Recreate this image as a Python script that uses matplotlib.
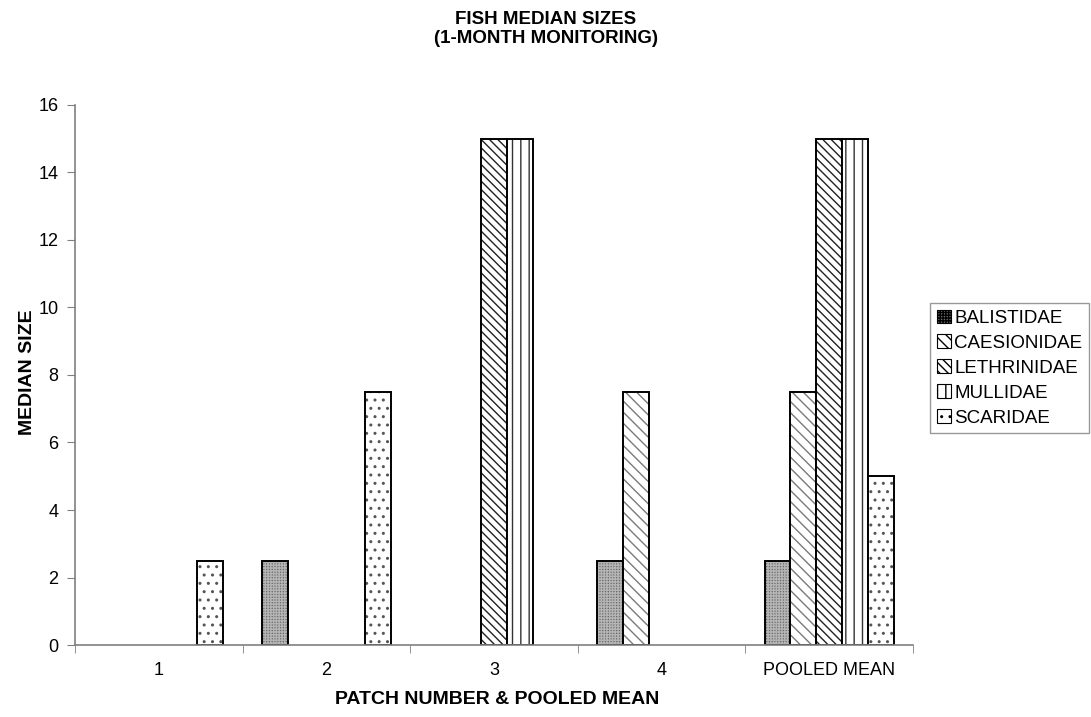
import numpy as np
import matplotlib
matplotlib.use("Agg")
import matplotlib.pyplot as plt
from matplotlib.patches import Patch

categories = ["1", "2", "3", "4", "POOLED MEAN"]
balistidae = [0, 2.5, 0, 2.5, 2.5]
caesionidae = [0, 0, 0, 7.5, 7.5]
lethrinidae = [0, 0, 15, 0, 15]
mullidae = [0, 0, 15, 0, 15]
scaridae = [2.5, 7.5, 0, 0, 5]

# name, values, face, hatch, hatch colour
series = [
    ("BALISTIDAE", balistidae, "#6e6e6e", "++++++", "#b4b4b4"),
    ("CAESIONIDAE", caesionidae, "white", "\\\\\\", "#7a7a7a"),
    ("LETHRINIDAE", lethrinidae, "white", "\\\\\\\\", "#222222"),
    ("MULLIDAE", mullidae, "white", "||", "#333333"),
    ("SCARIDAE", scaridae, "white", "..", "#555555"),
]

plt.rcParams["font.family"] = ["Liberation Sans", "DejaVu Sans"]
plt.rcParams["hatch.linewidth"] = 1.0

fig = plt.figure(figsize=(10.91, 7.17), dpi=100)
ax = fig.add_axes([0.0687, 0.1004, 0.768, 0.7532])

x = np.arange(len(categories))
w = 0.154
handles = []
for i, (name, vals, fc, hatch, hc) in enumerate(series):
    vals = np.array(vals, dtype=float)
    keep = vals > 0
    xs = x[keep] + (i - 2) * w
    ax.bar(xs, vals[keep], w, color=fc, edgecolor=hc, hatch=hatch, linewidth=0)
    ax.bar(xs, vals[keep], w, fill=False, edgecolor="black", linewidth=1.4)
    handles.append(Patch(facecolor=fc, edgecolor="black", hatch=hatch, linewidth=0.8, label=name))

ax.set_xlim(-0.5, len(categories) - 0.5)
ax.set_ylim(0, 16)
ax.set_yticks(range(0, 17, 2))
ax.set_xticks(x)
ax.set_xticklabels(categories, fontsize=13)
ax.set_xticks(np.arange(-0.5, len(categories), 1), minor=True)
ax.tick_params(axis="x", which="major", length=0, pad=12)
ax.tick_params(axis="x", which="minor", length=6, color="#808080", direction="out")
ax.tick_params(axis="y", length=6, color="#808080", labelsize=13, pad=6)
for s in ["top", "right"]:
    ax.spines[s].set_visible(False)
for s in ["left", "bottom"]:
    ax.spines[s].set_color("#808080")
    ax.spines[s].set_linewidth(1.2)

fig.text(28 / 1091, 1 - 372 / 717, "MEDIAN SIZE", rotation=90, ha="center", va="center",
         fontsize=14, fontweight="bold")
fig.text(497 / 1091, 1 - 700 / 717, "PATCH NUMBER & POOLED MEAN", ha="center", va="center",
         fontsize=14, fontweight="bold")
fig.text(0.5, 1 - 29 / 717, "FISH MEDIAN SIZES\n(1-MONTH MONITORING)", ha="center", va="center",
         fontsize=13.5, fontweight="bold", linespacing=1.15)

leg = fig.legend(handles=handles, loc="upper left", bbox_to_anchor=(930 / 1091, 1 - 303 / 717),
                 fontsize=13.5, frameon=True, fancybox=False, edgecolor="#808080",
                 handlelength=0.75, handleheight=0.75, handletextpad=0.2, labelspacing=0.4,
                 borderpad=0.35, borderaxespad=0)
leg.get_frame().set_linewidth(1.0)

fig.savefig("out.png", dpi=100)
